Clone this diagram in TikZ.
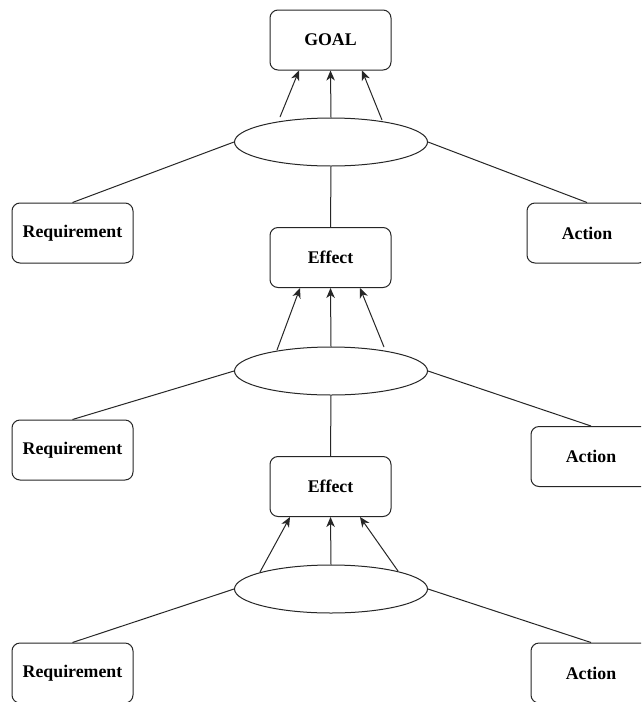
\documentclass[tikz,border=0pt]{standalone}
\usepackage{fontspec}
\setmainfont{Liberation Serif}
\usetikzlibrary{arrows.meta,calc,shapes.geometric}
\begin{document}
\begin{tikzpicture}[x=1pt,y=-1pt,
  box/.style={draw=black!85, line width=1pt, rounded corners=8pt, fill=white,
    minimum width=121pt, minimum height=60pt, inner sep=0pt,
    font=\fontsize{17.8}{20}\selectfont\bfseries},
  actbox/.style={box, minimum width=120pt},
  junction/.style={ellipse, draw=black!85, line width=1pt, fill=white,
    minimum width=193pt, minimum height=48pt, inner sep=0pt},
  link/.style={draw=black!85, line width=1pt},
  arr/.style={link, -{Stealth[length=10pt,width=8.5pt,inset=3pt]}}
]
\useasboundingbox (0,0) rectangle (641,702);
\clip (0,0) rectangle (641,702);
\fill[white] (0,0) rectangle (641,702);

% top level
\node[box] (goal) at (330.5,40) {GOAL};
\node[junction] (e1) at (331,142) {};
\node[box] (req1) at (72.5,233) {Requirement};
\node[actbox] (act1) at (587,233) {Action};
\node[box] (eff1) at (330.5,257.5) {Effect};

% middle level
\node[junction] (e2) at (331,371) {};
\node[box] (req2) at (72.5,450) {Requirement};
\node[actbox] (act2) at (591,456.5) {Action};
\node[box] (eff2) at (330.5,486.5) {Effect};

% bottom level
\node[junction] (e3) at (331,589) {};
\node[box] (req3) at (72.5,673) {Requirement};
\node[actbox] (act3) at (591,673) {Action};

% plain links
\draw[link] (e1.west) -- (req1.north);
\draw[link] (e1.east) -- (act1.north);
\draw[link] (e1.south) -- (eff1.north);
\draw[link] (e2.west) -- (req2.north);
\draw[link] (e2.east) -- (act2.north);
\draw[link] (e2.south) -- (eff2.north);
\draw[link] (e3.west) -- (req3.north);
\draw[link] (e3.east) -- (act3.north);

% arrows into GOAL
\draw[arr] ($(e1.center)+(-51,-25)$) -- ($(goal.south)+(-31.5,0)$);
\draw[arr] (e1.north) -- (goal.south);
\draw[arr] ($(e1.center)+(51,-22)$) -- ($(goal.south)+(31.5,0)$);

% arrows into the first Effect
\draw[arr] ($(e2.center)+(-54,-21)$) -- ($(eff1.south)+(-30.5,0)$);
\draw[arr] (e2.north) -- (eff1.south);
\draw[arr] ($(e2.center)+(53,-24)$) -- ($(eff1.south)+(29.5,0)$);

% arrows into the second Effect
\draw[arr] ($(e3.center)+(-71,-17)$) -- ($(eff2.south)+(-40.5,0)$);
\draw[arr] (e3.north) -- (eff2.south);
\draw[arr] ($(e3.center)+(67,-18)$) -- ($(eff2.south)+(29.5,0)$);
\end{tikzpicture}
\end{document}
